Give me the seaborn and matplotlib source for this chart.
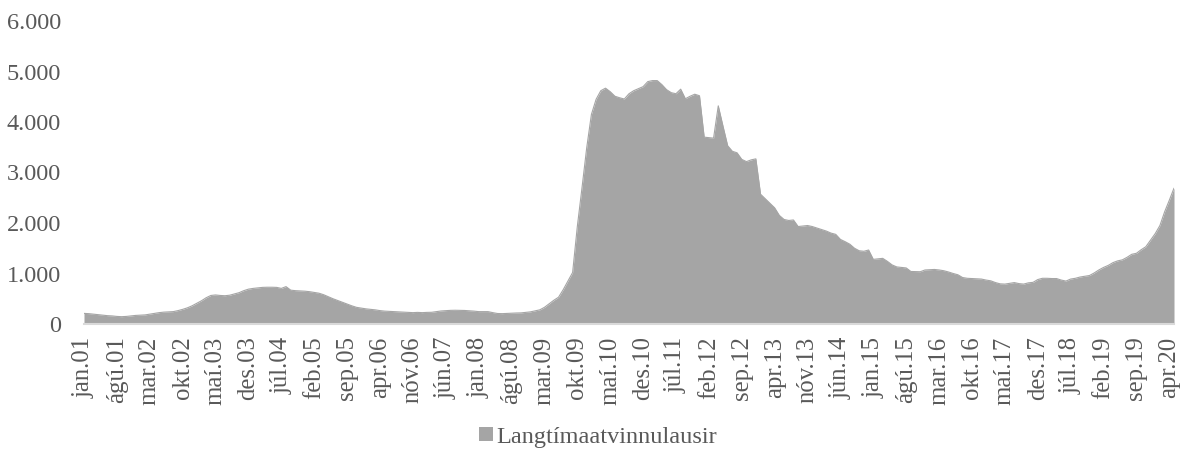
import numpy as np
import pandas as pd
import matplotlib
matplotlib.use("Agg")
import matplotlib.pyplot as plt
from matplotlib.patches import Patch
import seaborn as sns

# Monthly long-term unemployed, jan.01 .. maí.20
values = [
    210, 205, 195, 185, 175, 165, 160, 150, 145, 150, 160, 170,   # 2001
    175, 180, 195, 210, 225, 235, 240, 245, 265, 290, 320, 360,   # 2002
    410, 460, 520, 565, 575, 565, 560, 570, 595, 620, 660, 690,   # 2003
    705, 715, 725, 728, 728, 725, 705, 740, 670, 660, 655, 650,   # 2004
    640, 625, 610, 580, 540, 500, 465, 430, 395, 360, 330, 315,   # 2005
    300, 290, 280, 265, 255, 250, 245, 240, 235, 230, 225, 230,   # 2006
    225, 230, 232, 245, 258, 265, 270, 272, 270, 268, 262, 255,   # 2007
    245, 245, 245, 225, 208, 205, 210, 215, 218, 220, 230, 240,   # 2008
    260, 280, 330, 400, 470, 530, 680, 850, 1020, 1930, 2700, 3490,  # 2009
    4150, 4450, 4620, 4670, 4600, 4510, 4480, 4455, 4560, 4620, 4660, 4700,  # 2010
    4800, 4820, 4820, 4740, 4640, 4580, 4560, 4650, 4460, 4510, 4550, 4520,  # 2011
    3700, 3690, 3680, 4320, 3920, 3530, 3420, 3390, 3260, 3215, 3250, 3270,  # 2012
    2570, 2480, 2390, 2300, 2150, 2070, 2050, 2060, 1930, 1940, 1950, 1930,  # 2013
    1900, 1870, 1840, 1800, 1775, 1675, 1630, 1580, 1500, 1450, 1440, 1465,  # 2014
    1280, 1290, 1300, 1240, 1170, 1130, 1120, 1110, 1040, 1038, 1035, 1070,  # 2015
    1075, 1080, 1070, 1055, 1030, 1000, 975, 920, 905, 900, 895, 890,  # 2016
    870, 855, 820, 795, 790, 805, 820, 800, 790, 815, 825, 880,   # 2017
    905, 905, 900, 900, 870, 850, 890, 905, 930, 945, 960, 1010,  # 2018
    1070, 1120, 1160, 1215, 1250, 1270, 1320, 1380, 1400, 1470, 1530, 1660,  # 2019
    1790, 1950, 2220, 2450, 2690,                                 # 2020
]
months = ["jan", "feb", "mar", "apr", "maí", "jún", "júl", "ágú", "sep", "okt", "nóv", "des"]
labels = [f"{months[i % 12]}.{(1 + i // 12):02d}" for i in range(len(values))]
yticks = [0, 1000, 2000, 3000, 4000, 5000, 6000]
ytick_labels = ["0", "1.000", "2.000", "3.000", "4.000", "5.000", "6.000"]
series_name = "Langtímaatvinnulausir"

df = pd.DataFrame({"idx": np.arange(len(values)), "value": values, "label": labels})

sns.set_theme(style="white")
plt.rcParams["font.family"] = ["Liberation Serif", "DejaVu Serif"]

fill_color = "#a5a5a5"
text_color = "#595959"

fig = plt.figure(figsize=(11.8, 4.5), dpi=100)
ax = fig.add_axes([84 / 1180, 1 - 324 / 450, (1174 - 84) / 1180, (324 - 21) / 450])

sns.lineplot(data=df, x="idx", y="value", ax=ax, color=fill_color, linewidth=0.8)
ax.fill_between(df["idx"], 0, df["value"], color=fill_color, linewidth=0)

ax.set_xlim(0, len(values) - 1)
ax.set_ylim(0, 6000)
ax.set_xlabel("")
ax.set_ylabel("")

tick_pos = list(range(0, len(values), 7))
ax.set_xticks(tick_pos)
ax.set_xticklabels([labels[i] for i in tick_pos], rotation=90, fontsize=17.8, color=text_color)
ax.set_yticks(yticks)
ax.set_yticklabels(ytick_labels, fontsize=17.5, color=text_color)
ax.tick_params(axis="x", length=0, pad=9)
ax.tick_params(axis="y", length=0, pad=16.5)

for s in ["top", "right", "left"]:
    ax.spines[s].set_visible(False)
ax.spines["bottom"].set_color("#d9d9d9")
ax.spines["bottom"].set_linewidth(1.5)
ax.grid(False)

handle = Patch(facecolor=fill_color, edgecolor="none", label=series_name)
fig.legend(handles=[handle], loc="center", bbox_to_anchor=(0.507, 1 - 437 / 450),
           frameon=False, fontsize=17.5, handlelength=0.55, handleheight=0.55,
           handletextpad=0.15, labelcolor=text_color)

fig.savefig("out.png", dpi=100)
